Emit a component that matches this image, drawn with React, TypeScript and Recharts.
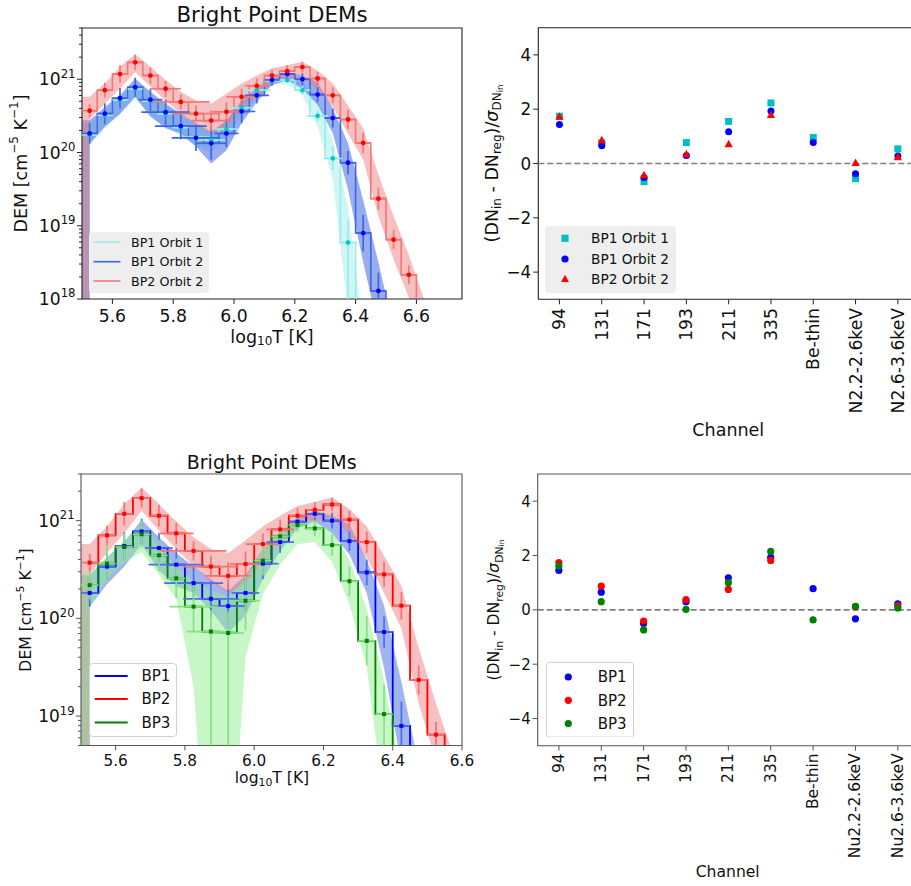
import React from 'react';
import {
  ComposedChart,
  Line,
  Area,
  Scatter,
  XAxis,
  YAxis,
  ErrorBar,
  ReferenceArea,
  ReferenceLine,
  Legend,
} from 'recharts';

const FONT = "'DejaVu Sans', sans-serif";

// log10 T bin centres (0.05 wide bins starting at 5.5)
const binEdge = 5.5;
const logT = [
  5.525, 5.575, 5.625, 5.675, 5.725, 5.775, 5.825, 5.875, 5.925, 5.975, 6.025, 6.075,
  6.125, 6.175, 6.225, 6.275, 6.325, 6.375, 6.425, 6.475, 6.525, 6.575, 6.625,
];

// DEM values, log10 [cm^-5 K^-1]
const bp1o1Dem = [20.24, 20.51, 20.72, 20.87, 20.7, 20.53, 20.34, 20.21, 20.17, 20.32, 20.61, 20.85, 20.98, 20.99, 20.85, 20.5, 19.92, 18.77, 17.5];
const bp1Dem = [20.26, 20.53, 20.74, 20.89, 20.72, 20.55, 20.36, 20.2, 20.125, 20.26, 20.56, 20.78, 20.99, 21.07, 21.0, 20.79, 20.47, 19.86, 18.9, 18.11, 17.6];
const bp2Dem = [20.57, 20.85, 21.07, 21.23, 21.05, 20.87, 20.69, 20.53, 20.435, 20.555, 20.76, 20.91, 21.05, 21.11, 21.165, 21.01, 20.78, 20.45, 20.13, 19.37, 18.81, 18.33, 17.6];
const bp3Dem = [20.34, 20.56, 20.73, 20.86, 20.645, 20.41, 20.12, 19.865, 19.85, 20.18, 20.59, 20.84, 20.955, 20.92, 20.75, 20.38, 19.77, 19.02, 18.3];

// vertical error bars, dex above / below the value
const bp1o1ErrUp = [0.1, 0.1, 0.1, 0.1, 0.1, 0.12, 0.12, 0.12, 0.12, 0.1, 0.09, 0.07, 0.06, 0.05, 0.06, 0.08, 0.16, 0.31, 0.3];
const bp1o1ErrDn = [0.1, 0.1, 0.1, 0.1, 0.1, 0.12, 0.12, 0.12, 0.12, 0.1, 0.09, 0.07, 0.06, 0.05, 0.06, 0.08, 0.16, 1.2, 0.3];
const bp1Err = [0.14, 0.14, 0.14, 0.13, 0.15, 0.17, 0.18, 0.18, 0.22, 0.19, 0.16, 0.11, 0.08, 0.07, 0.08, 0.1, 0.13, 0.16, 0.25, 0.25, 0.25];
const bp2Err = [0.09, 0.1, 0.12, 0.1, 0.11, 0.11, 0.1, 0.11, 0.14, 0.13, 0.11, 0.1, 0.08, 0.08, 0.07, 0.09, 0.11, 0.13, 0.14, 0.15, 0.13, 0.13, 0.13];
const bp3ErrUp = [0.145, 0.19, 0.14, 0.14, 0.16, 0.2, 0.26, 0.22, 0.22, 0.25, 0.15, 0.09, 0.07, 0.08, 0.11, 0.15, 0.25, 0.3, 0.3];
const bp3ErrDn = [0.145, 0.19, 0.14, 0.14, 0.16, 0.2, 0.26, 1.5, 1.5, 0.3, 0.15, 0.09, 0.07, 0.08, 0.11, 0.15, 0.25, 0.4, 0.3];

// horizontal error bars, half width in log10 T
const bp1o1XErr = [0.025, 0.025, 0.025, 0.025, 0.025, 0.025, 0.025, 0.045, 0.045, 0.04, 0.04, 0.045, 0.025, 0.025, 0.025, 0.035, 0.03, 0.03, 0.025];
const bp1XErr = [0.025, 0.025, 0.025, 0.025, 0.04, 0.08, 0.085, 0.08, 0.05, 0.04, 0.045, 0.04, 0.025, 0.025, 0.025, 0.025, 0.025, 0.025, 0.025, 0.025, 0.025];
const bp2XErr = [0.025, 0.025, 0.025, 0.025, 0.025, 0.05, 0.095, 0.08, 0.065, 0.045, 0.05, 0.04, 0.025, 0.025, 0.025, 0.025, 0.025, 0.025, 0.025, 0.025, 0.025, 0.025, 0.025];
const bp3XErr = [0.025, 0.025, 0.025, 0.025, 0.025, 0.025, 0.07, 0.07, 0.045, 0.04, 0.025, 0.025, 0.025, 0.025, 0.025, 0.025, 0.025, 0.025, 0.025];

// uncertainty bands (log10), upper / lower edge at each bin centre
const bp1o1BandHi = [20.4, 20.58, 20.75, 20.98, 20.8, 20.64, 20.5, 20.37, 20.3, 20.42, 20.7, 20.92, 21.02, 21.03, 20.95, 20.71, 20.17, 19.26, 17.6, 17.0, 17.0, 17.0, 17.0];
const bp1o1BandLo = [20.1, 20.33, 20.52, 20.74, 20.5, 20.35, 20.22, 20.08, 20.0, 20.2, 20.5, 20.75, 20.92, 20.93, 20.78, 20.35, 19.63, 17.8, 17.0, 16.8, 16.8, 16.8, 16.8];
const bp1BandHi = [20.44, 20.62, 20.78, 21.01, 20.83, 20.67, 20.53, 20.4, 20.28, 20.44, 20.71, 20.87, 21.03, 21.1, 21.05, 20.96, 20.6, 20.13, 19.35, 18.5, 17.6, 17.2, 17.0];
const bp1BandLo = [20.12, 20.35, 20.53, 20.76, 20.49, 20.33, 20.26, 20.08, 19.85, 20.03, 20.4, 20.69, 20.92, 20.99, 20.87, 20.65, 20.26, 19.49, 18.5, 17.6, 17.0, 16.8, 16.8];
const bp2BandHi = [20.76, 20.94, 21.17, 21.34, 21.17, 20.99, 20.83, 20.71, 20.67, 20.8, 20.94, 21.05, 21.15, 21.19, 21.24, 21.12, 20.94, 20.64, 20.33, 19.7, 19.13, 18.6, 18.0];
const bp2BandLo = [20.45, 20.67, 20.87, 21.1, 20.9, 20.71, 20.53, 20.37, 20.26, 20.35, 20.58, 20.76, 20.94, 21.01, 21.03, 20.85, 20.62, 20.26, 19.9, 19.13, 18.54, 18.02, 17.4];
const bp3BandHi = [20.46, 20.63, 20.8, 20.96, 20.73, 20.53, 20.38, 20.29, 20.22, 20.41, 20.7, 20.9, 21.02, 21.0, 20.89, 20.6, 20.09, 19.37, 18.4, 17.0, 17.0, 17.0, 17.0];
const bp3BandLo = [20.1, 20.4, 20.57, 20.68, 20.45, 20.2, 19.3, 17.0, 17.0, 19.6, 20.25, 20.55, 20.76, 20.78, 20.58, 20.15, 19.5, 18.1, 17.0, 16.8, 16.8, 16.8, 16.8];

// residual panels
const channelsTop = ['94', '131', '171', '193', '211', '335', 'Be-thin', 'N2.2-2.6keV', 'N2.6-3.6keV'];
const channelsBottom = ['94', '131', '171', '193', '211', '335', 'Be-thin', 'Nu2.2-2.6keV', 'Nu2.6-3.6keV'];
const residBp1o1 = [1.74, 0.76, -0.67, 0.77, 1.55, 2.23, 0.96, -0.56, 0.54];
const residBp1o2 = [1.44, 0.65, -0.52, 0.29, 1.17, 1.93, 0.77, -0.38, 0.28];
const residBp2o2 = [1.72, 0.86, -0.43, 0.34, 0.71, 1.79, null, 0.02, 0.23];
const residBp1 = [1.45, 0.65, -0.5, 0.3, 1.18, 1.93, 0.78, -0.33, 0.22];
const residBp2 = [1.74, 0.87, -0.41, 0.38, 0.75, 1.82, null, 0.11, 0.16];
const residBp3 = [1.61, 0.3, -0.74, 0.02, 1.0, 2.15, -0.37, 0.13, 0.07];

const BAND_FLOOR = 1e16;

// step-line table: every value, also those under the axis floor
const toSteps = (vals: number[]) => vals.map((v, i) => ({ x: logT[i], y: 10 ** v }));

// markers with error bars: only values inside the axis, bars cut at the axis floor
const toMarks = (vals: number[], up: number[], dn: number[], xe: number[], floor: number) =>
  vals
    .map((v, i) => {
      const y = 10 ** v;
      const low = Math.max(10 ** (v - dn[i]), floor);
      return { x: logT[i], y, ey: [y - low, 10 ** (v + up[i]) - y], ex: xe[i] };
    })
    .filter((d) => d.y >= floor);

const toBand = (hi: number[], lo: number[]) => [
  { x: binEdge, band: [BAND_FLOOR, 10 ** hi[0]] },
  { x: logT[0], band: [BAND_FLOOR, 10 ** hi[0]] },
  ...hi.map((h, i) => ({ x: logT[i], band: [10 ** lo[i], 10 ** h] })),
];

const toResid = (vals: (number | null)[]) =>
  vals.map((v, i) => ({ x: i, y: v })).filter((d) => d.y !== null);

const marker = (kind: string, color: string, s: number) => (p: any) => {
  const { cx, cy } = p;
  if (cx == null || cy == null || !isFinite(cy)) return <g />;
  if (kind === 'square') return <rect x={cx - s / 2} y={cy - s / 2} width={s} height={s} fill={color} />;
  if (kind === 'triangle')
    return (
      <path
        d={`M${cx},${cy - s * 0.6}L${cx + s * 0.55},${cy + s * 0.4}L${cx - s * 0.55},${cy + s * 0.4}Z`}
        fill={color}
      />
    );
  return <circle cx={cx} cy={cy} r={s / 2} fill={color} />;
};

function LegendBox({ w, h, items, rows, markX, markW, textX, fs, fill, stroke }: any) {
  return (
    <svg width={w} height={h} style={{ display: 'block', fontFamily: FONT }}>
      <rect x={0.5} y={0.5} width={w - 1} height={h - 1} rx={3} fill={fill} stroke={stroke} />
      {items.map((it: any, i: number) => (
        <g key={it.label}>
          {it.kind === 'line' ? (
            <line x1={markX} x2={markX + markW} y1={rows[i]} y2={rows[i]} stroke={it.color} strokeWidth={it.width || 1.6} />
          ) : (
            marker(it.kind, it.color, 7.2)({ cx: markX, cy: rows[i] })
          )}
          <text x={textX} y={rows[i]} dy="0.36em" fontSize={fs} fill="#111">
            {it.label}
          </text>
        </g>
      ))}
    </svg>
  );
}

const logTick = (fs: number, major: number, minor: number, color: string) => (p: any) => {
  const { x, y, payload } = p;
  const e = Math.log10(payload.value);
  const isMajor = Math.abs(e - Math.round(e)) < 1e-6;
  return (
    <g>
      <line x1={x - (isMajor ? major : minor)} x2={x} y1={y} y2={y} stroke={color} />
      {isMajor && (
        <text x={x - major - 1.5} y={y} dy="0.36em" textAnchor="end" fontSize={fs} fill="#111" fontFamily={FONT}>
          10
          <tspan dy={-fs * 0.45} fontSize={fs * 0.68}>
            {Math.round(e)}
          </tspan>
        </text>
      )}
    </g>
  );
};

const xNumTick = (fs: number, len: number, off: number, color: string) => (p: any) => (
  <g>
    <line x1={p.x} x2={p.x} y1={p.y} y2={p.y + len} stroke={color} />
    <text x={p.x} y={p.y + off} textAnchor="middle" fontSize={fs} fill="#111" fontFamily={FONT}>
      {Number(p.payload.value).toFixed(1)}
    </text>
  </g>
);

const yLinTick = (fs: number, color: string) => (p: any) => {
  const v = p.payload.value;
  return (
    <g>
      <line x1={p.x - 5} x2={p.x} y1={p.y} y2={p.y} stroke={color} />
      <text x={p.x - 7} y={p.y} dy="0.36em" textAnchor="end" fontSize={fs} fill="#111" fontFamily={FONT}>
        {v < 0 ? `\u2212${Math.abs(v)}` : v}
      </text>
    </g>
  );
};

const channelTick = (names: string[], fs: number, off: number, color: string) => (p: any) => (
  <g>
    <line x1={p.x} x2={p.x} y1={p.y} y2={p.y + 5} stroke={color} />
    <text
      transform={`translate(${p.x},${p.y + off}) rotate(-90)`}
      textAnchor="end"
      dominantBaseline="central"
      fontSize={fs}
      fill="#111"
      fontFamily={FONT}
    >
      {names[p.payload.value]}
    </text>
  </g>
);

const logTicks = (lo: number, hi: number) => {
  const out: number[] = [];
  for (let d = 17; d <= 22; d++)
    for (let m = 1; m <= 9; m++) {
      const v = m * 10 ** d;
      if (v >= lo * 0.999 && v <= hi * 1.001) out.push(v);
    }
  return out;
};

type DemSeries = {
  name: string;
  steps: any[];
  marks: any[];
  band: any[];
  line: string;
  err: string;
  dot: string;
  fill: string;
  fillOpacity: number;
  marker: string;
  dotSize: number;
  lineWidth: number;
};

function DemPanel({ w, h, margin, xDomain, xTicks, yDomain, series, tickFs, yTickFs, xOff, axisColor, legend }: any) {
  return (
    <ComposedChart width={w} height={h} margin={margin} style={{ fontFamily: FONT }}>
      <XAxis
        type="number"
        dataKey="x"
        domain={xDomain}
        ticks={xTicks}
        allowDataOverflow
        interval={0}
        height={30}
        tickSize={0}
        tickMargin={0}
        axisLine={false}
        tickLine={false}
        tick={xNumTick(tickFs, 5, xOff, axisColor)}
      />
      <YAxis
        type="number"
        scale="log"
        domain={yDomain}
        ticks={logTicks(yDomain[0], yDomain[1])}
        allowDataOverflow
        interval={0}
        width={60}
        tickSize={0}
        tickMargin={0}
        axisLine={false}
        tickLine={false}
        tick={logTick(yTickFs, 5, 3, axisColor)}
      />
      {series.map((s: DemSeries) => (
        <Area
          key={`band-${s.name}`}
          data={s.band}
          dataKey="band"
          type="linear"
          stroke="none"
          fill={s.fill}
          fillOpacity={s.fillOpacity}
          isAnimationActive={false}
          legendType="none"
        />
      ))}
      {series.map((s: DemSeries) => (
        <Line
          key={`step-${s.name}`}
          data={s.steps}
          dataKey="y"
          name={s.name}
          type="step"
          stroke={s.line}
          strokeWidth={s.lineWidth}
          dot={false}
          isAnimationActive={false}
        />
      ))}
      {series.map((s: DemSeries) => (
        <Scatter
          key={`pts-${s.name}`}
          data={s.marks}
          dataKey="y"
          shape={marker(s.marker, s.dot, s.dotSize)}
          isAnimationActive={false}
          legendType="none"
        >
          <ErrorBar dataKey="ey" direction="y" width={0} stroke={s.err} strokeWidth={1.7} />
          <ErrorBar dataKey="ex" direction="x" width={0} stroke={s.err} strokeWidth={1.7} />
        </Scatter>
      ))}
      <ReferenceArea
        x1={xDomain[0]}
        x2={xDomain[1]}
        y1={yDomain[0]}
        y2={yDomain[1]}
        fill="none"
        stroke={axisColor}
        strokeWidth={1.1}
        ifOverflow="visible"
      />
      <Legend
        verticalAlign="middle"
        align="center"
        layout="horizontal"
        wrapperStyle={{ left: legend.x, top: legend.y, width: legend.w, height: legend.h, lineHeight: 0 }}
        content={() => <LegendBox {...legend} />}
      />
    </ComposedChart>
  );
}

function ResidPanel({ w, h, margin, names, series, tickFs, yTickFs, labelOff, axisColor, legend }: any) {
  return (
    <ComposedChart width={w} height={h} margin={margin} style={{ fontFamily: FONT }}>
      <XAxis
        type="number"
        dataKey="x"
        domain={[-0.5, 8.5]}
        ticks={names.map((_: string, i: number) => i)}
        allowDataOverflow
        interval={0}
        height={30}
        tickSize={0}
        tickMargin={0}
        axisLine={false}
        tickLine={false}
        tick={channelTick(names, tickFs, labelOff, axisColor)}
      />
      <YAxis
        type="number"
        domain={[-5, 5]}
        ticks={[-4, -2, 0, 2, 4]}
        allowDataOverflow
        interval={0}
        width={60}
        tickSize={0}
        tickMargin={0}
        axisLine={false}
        tickLine={false}
        tick={yLinTick(yTickFs, axisColor)}
      />
      <ReferenceLine y={0} stroke="#7f7f7f" strokeWidth={1.6} strokeDasharray="6 3" />
      {series.map((s: any) => (
        <Scatter
          key={s.name}
          name={s.name}
          data={s.pts}
          dataKey="y"
          shape={marker(s.marker, s.color, s.size)}
          isAnimationActive={false}
        />
      ))}
      <ReferenceArea x1={-0.5} x2={8.5} y1={-5} y2={5} fill="none" stroke={axisColor} strokeWidth={1.1} ifOverflow="visible" />
      <Legend
        verticalAlign="middle"
        align="center"
        layout="horizontal"
        wrapperStyle={{ left: legend.x, top: legend.y, width: legend.w, height: legend.h, lineHeight: 0 }}
        content={() => <LegendBox {...legend} />}
      />
    </ComposedChart>
  );
}

const sup = (t: string, fs: number, up: number) => (
  <tspan dy={-up} fontSize={fs}>
    {t}
  </tspan>
);

export default function App() {
  const TOP_FLOOR = 1e18;
  const BOT_FLOOR = 5e18;

  const topDem: DemSeries[] = [
    {
      name: 'BP1 Orbit 1',
      steps: toSteps(bp1o1Dem),
      marks: toMarks(bp1o1Dem, bp1o1ErrUp, bp1o1ErrDn, bp1o1XErr, TOP_FLOOR),
      band: toBand(bp1o1BandHi, bp1o1BandLo),
      line: '#98ebe6',
      err: '#98ebe6',
      dot: '#00c6c6',
      fill: '#afeeee',
      fillOpacity: 0.6,
      marker: 'circle',
      dotSize: 4.6,
      lineWidth: 1.6,
    },
    {
      name: 'BP1 Orbit 2',
      steps: toSteps(bp1Dem),
      marks: toMarks(bp1Dem, bp1Err, bp1Err, bp1XErr, TOP_FLOOR),
      band: toBand(bp1BandHi, bp1BandLo),
      line: '#3f66e0',
      err: '#3f66e0',
      dot: '#0000ff',
      fill: '#4169e1',
      fillOpacity: 0.55,
      marker: 'circle',
      dotSize: 4.8,
      lineWidth: 1.6,
    },
    {
      name: 'BP2 Orbit 2',
      steps: toSteps(bp2Dem),
      marks: toMarks(bp2Dem, bp2Err, bp2Err, bp2XErr, TOP_FLOOR),
      band: toBand(bp2BandHi, bp2BandLo),
      line: '#f07878',
      err: '#f07878',
      dot: '#ff0000',
      fill: '#f08080',
      fillOpacity: 0.5,
      marker: 'circle',
      dotSize: 4.8,
      lineWidth: 1.6,
    },
  ];

  const bottomDem: DemSeries[] = [
    {
      name: 'BP1',
      steps: toSteps(bp1Dem),
      marks: toMarks(bp1Dem, bp1Err, bp1Err, bp1XErr, BOT_FLOOR),
      band: toBand(bp1BandHi, bp1BandLo),
      line: '#0000ff',
      err: '#4a70e4',
      dot: '#0000ff',
      fill: '#4169e1',
      fillOpacity: 0.5,
      marker: 'square',
      dotSize: 4,
      lineWidth: 1.8,
    },
    {
      name: 'BP2',
      steps: toSteps(bp2Dem),
      marks: toMarks(bp2Dem, bp2Err, bp2Err, bp2XErr, BOT_FLOOR),
      band: toBand(bp2BandHi, bp2BandLo),
      line: '#ff0000',
      err: '#f07474',
      dot: '#ff0000',
      fill: '#f08080',
      fillOpacity: 0.5,
      marker: 'square',
      dotSize: 4,
      lineWidth: 1.8,
    },
    {
      name: 'BP3',
      steps: toSteps(bp3Dem),
      marks: toMarks(bp3Dem, bp3ErrUp, bp3ErrDn, bp3XErr, BOT_FLOOR),
      band: toBand(bp3BandHi, bp3BandLo),
      line: '#008000',
      err: '#84e284',
      dot: '#008000',
      fill: '#90ee90',
      fillOpacity: 0.5,
      marker: 'square',
      dotSize: 4,
      lineWidth: 1.8,
    },
  ];

  const topResid = [
    { name: 'BP1 Orbit 1', pts: toResid(residBp1o1), marker: 'square', color: '#00bfbf', size: 7 },
    { name: 'BP1 Orbit 2', pts: toResid(residBp1o2), marker: 'circle', color: '#0000ff', size: 7 },
    { name: 'BP2 Orbit 2', pts: toResid(residBp2o2), marker: 'triangle', color: '#ff0000', size: 7.5 },
  ];
  const bottomResid = [
    { name: 'BP1', pts: toResid(residBp1), marker: 'circle', color: '#0000ff', size: 7.2 },
    { name: 'BP2', pts: toResid(residBp2), marker: 'circle', color: '#ff0000', size: 7.2 },
    { name: 'BP3', pts: toResid(residBp3), marker: 'circle', color: '#008000', size: 7.2 },
  ];

  const textStyle: React.CSSProperties = { position: 'absolute', left: 0, top: 0, pointerEvents: 'none', fontFamily: FONT };

  return (
    <div
      style={{
        position: 'absolute',
        left: 0,
        top: 0,
        width: 911,
        height: 886,
        overflow: 'hidden',
        background: '#fff',
        fontFamily: FONT,
      }}
    >
      {/* top left: DEMs for two orbits */}
      <div style={{ position: 'absolute', left: 0, top: 0, width: 490, height: 350 }}>
        <DemPanel
          w={490}
          h={350}
          margin={{ top: 28, right: 28, left: 22, bottom: 21 }}
          xDomain={[5.5, 6.75]}
          xTicks={[5.6, 5.8, 6.0, 6.2, 6.4, 6.6]}
          yDomain={[TOP_FLOOR, 5e21]}
          series={topDem}
          tickFs={17.2}
          yTickFs={17.2}
          xOff={22.5}
          axisColor="#222"
          legend={{
            x: 89,
            y: 232,
            w: 120,
            h: 61,
            items: topDem.map((s) => ({ label: s.name, color: s.line, kind: 'line', width: 1.6 })),
            rows: [10, 29.7, 49],
            markX: 4.5,
            markW: 27,
            textX: 42,
            fs: 12.7,
            fill: '#eeeeee',
            stroke: '#eeeeee',
          }}
        />
        <svg width={490} height={350} style={textStyle}>
          <text x={272} y={14} textAnchor="middle" dominantBaseline="central" fontSize={21.4} fill="#111">
            Bright Point DEMs
          </text>
          <text
            x={21}
            y={163.5}
            transform="rotate(-90 21 163.5)"
            textAnchor="middle"
            dominantBaseline="central"
            fontSize={17.5}
            fill="#111"
          >
            DEM [cm{sup('\u22125', 12, 7)}
            <tspan dy={7}> K</tspan>
            {sup('\u22121', 12, 7)}
            <tspan dy={7}>]</tspan>
          </text>
          <text x={272} y={336.7} textAnchor="middle" dominantBaseline="central" fontSize={17.5} fill="#111">
            log
            <tspan dy={4} fontSize={12}>
              10
            </tspan>
            <tspan dy={-4}>T [K]</tspan>
          </text>
        </svg>
      </div>

      {/* top right: residuals */}
      <div style={{ position: 'absolute', left: 470, top: 0, width: 460, height: 450 }}>
        <ResidPanel
          w={460}
          h={450}
          margin={{ top: 27.7, right: 11, left: 8.3, bottom: 120.7 }}
          names={channelsTop}
          series={topResid}
          tickFs={17.2}
          yTickFs={16.8}
          labelOff={8.7}
          axisColor="#222"
          legend={{
            x: 75,
            y: 226,
            w: 131,
            h: 67,
            items: topResid.map((s) => ({ label: s.name, color: s.color, kind: s.marker })),
            rows: [12.3, 33, 53],
            markX: 20,
            markW: 0,
            textX: 46,
            fs: 13.7,
            fill: '#eeeeee',
            stroke: '#eeeeee',
          }}
        />
        <svg width={460} height={450} style={textStyle}>
          <text
            x={21.7}
            y={163.5}
            transform="rotate(-90 21.7 163.5)"
            textAnchor="middle"
            dominantBaseline="central"
            fontSize={17.5}
            fill="#111"
          >
            (DN
            <tspan dy={5} fontSize={12}>
              in
            </tspan>
            <tspan dy={-5}> - DN</tspan>
            <tspan dy={5} fontSize={12}>
              reg
            </tspan>
            <tspan dy={-5}>)/</tspan>
            <tspan fontStyle="italic">σ</tspan>
            <tspan dy={5} fontSize={12}>
              DN
            </tspan>
            <tspan dy={3} fontSize={8.5}>
              in
            </tspan>
          </text>
          <text x={258.3} y={430} textAnchor="middle" dominantBaseline="central" fontSize={17.5} fill="#111">
            Channel
          </text>
        </svg>
      </div>

      {/* bottom left: DEMs for three bright points */}
      <div style={{ position: 'absolute', left: 0, top: 450, width: 490, height: 350 }}>
        <DemPanel
          w={490}
          h={350}
          margin={{ top: 24, right: 28, left: 21, bottom: 24.5 }}
          xDomain={[5.5, 6.6]}
          xTicks={[5.6, 5.8, 6.0, 6.2, 6.4, 6.6]}
          yDomain={[BOT_FLOOR, 3e21]}
          series={bottomDem}
          tickFs={15.3}
          yTickFs={17}
          xOff={20.5}
          axisColor="#555"
          legend={{
            x: 89.3,
            y: 212.7,
            w: 88,
            h: 74,
            items: bottomDem.map((s) => ({ label: s.name, color: s.line, kind: 'line', width: 2 })),
            rows: [13, 36, 59.6],
            markX: 5.7,
            markW: 33,
            textX: 52.4,
            fs: 15,
            fill: '#ffffff',
            stroke: '#d0d0d0',
          }}
        />
        <svg width={490} height={350} style={textStyle}>
          <text x={271.7} y={11.7} textAnchor="middle" dominantBaseline="central" fontSize={19} fill="#111">
            Bright Point DEMs
          </text>
          <text
            x={26}
            y={160}
            transform="rotate(-90 26 160)"
            textAnchor="middle"
            dominantBaseline="central"
            fontSize={15.6}
            fill="#111"
          >
            DEM [cm{sup('\u22125', 10.8, 6.3)}
            <tspan dy={6.3}> K</tspan>
            {sup('\u22121', 10.8, 6.3)}
            <tspan dy={6.3}>]</tspan>
          </text>
          <text x={272} y={328} textAnchor="middle" dominantBaseline="central" fontSize={15.6} fill="#111">
            log
            <tspan dy={3.6} fontSize={10.8}>
              10
            </tspan>
            <tspan dy={-3.6}>T [K]</tspan>
          </text>
        </svg>
      </div>

      {/* bottom right: residuals */}
      <div style={{ position: 'absolute', left: 470, top: 450, width: 460, height: 436 }}>
        <ResidPanel
          w={460}
          h={436}
          margin={{ top: 24, right: 11, left: 7.7, bottom: 110.3 }}
          names={channelsBottom}
          series={bottomResid}
          tickFs={15.5}
          yTickFs={15}
          labelOff={7.6}
          axisColor="#555"
          legend={{
            x: 76,
            y: 211.7,
            w: 88,
            h: 75.6,
            items: bottomResid.map((s) => ({ label: s.name, color: s.color, kind: s.marker })),
            rows: [15, 38.3, 61.6],
            markX: 22.3,
            markW: 0,
            textX: 51.7,
            fs: 15,
            fill: '#ffffff',
            stroke: '#d0d0d0',
          }}
        />
        <svg width={460} height={436} style={textStyle}>
          <text
            x={24.3}
            y={160}
            transform="rotate(-90 24.3 160)"
            textAnchor="middle"
            dominantBaseline="central"
            fontSize={15.6}
            fill="#111"
          >
            (DN
            <tspan dy={4.5} fontSize={10.8}>
              in
            </tspan>
            <tspan dy={-4.5}> - DN</tspan>
            <tspan dy={4.5} fontSize={10.8}>
              reg
            </tspan>
            <tspan dy={-4.5}>)/</tspan>
            <tspan fontStyle="italic">σ</tspan>
            <tspan dy={4.5} fontSize={10.8}>
              DN
            </tspan>
            <tspan dy={2.7} fontSize={7.6}>
              in
            </tspan>
          </text>
          <text x={257.7} y={421.7} textAnchor="middle" dominantBaseline="central" fontSize={15.6} fill="#111">
            Channel
          </text>
        </svg>
      </div>
    </div>
  );
}
